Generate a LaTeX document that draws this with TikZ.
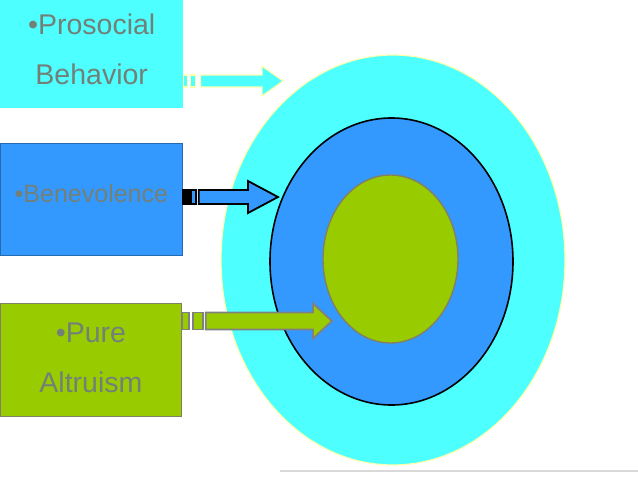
\documentclass[tikz,border=0pt]{standalone}
\usepackage{fontspec}
\setmainfont{Liberation Sans}
\usetikzlibrary{calc,positioning,shapes.geometric}

\definecolor{skycyan}{RGB}{77,255,255}
\definecolor{midblue}{RGB}{51,153,255}
\definecolor{leafgreen}{RGB}{153,204,0}
\definecolor{paleyellow}{RGB}{255,255,176}
\definecolor{olivegray}{RGB}{128,128,100}
\definecolor{textgray}{RGB}{115,128,120}

\tikzset{
  ring/.style={ellipse, inner sep=0pt},
  labelbox/.style={rectangle, anchor=north west, inner sep=0pt, align=center,
    text=textgray, font=\fontsize{28.5}{50}\selectfont},
  blockarrow/.style={line width=1.8pt, line join=miter},
}

\begin{document}
\begin{tikzpicture}[x=1pt,y=-1pt]
    \useasboundingbox (0,0) rectangle (638,479);
    % target rings
    \node[ring, fill=skycyan, draw=paleyellow, line width=1.2pt,
          minimum width=344pt, minimum height=410pt] (outer) at (393,260) {};
    \node[ring, fill=midblue, draw=black, line width=1.6pt,
          minimum width=243pt, minimum height=287pt] (middle) at (391.5,261.5) {};
    \node[ring, fill=leafgreen, draw=olivegray, line width=1.4pt,
          minimum width=135pt, minimum height=168pt] (inner) at (390.5,259) {};
    % label boxes
    \node[labelbox, fill=skycyan, minimum width=183pt, minimum height=108pt,
          text depth=10pt] (prosocial) at (0,0) {•Prosocial\\Behavior};
    \node[labelbox, fill=midblue, draw=midblue!70!black, line width=0.8pt,
          minimum width=182pt, minimum height=112pt, text depth=12pt,
          font=\fontsize{25}{30}\selectfont] (benevolence) at (0,143) {•Benevolence};
    \node[labelbox, fill=leafgreen, draw=olivegray, line width=0.8pt,
          minimum width=181pt, minimum height=113pt,
          text depth=4pt] (altruism) at (0,303) {•Pure\\Altruism};
    % arrow ends
    \coordinate (proS) at (prosocial.east |- 0,81);
    \coordinate (proT) at (283,81);
    \coordinate (benS) at (benevolence.east |- 0,197);
    \coordinate (benT) at (278,197);
    \coordinate (altS) at (altruism.east |- 0,321);
    \coordinate (altT) at (332,321);
    % prosocial arrow
    \draw[blockarrow, draw=paleyellow, fill=skycyan, line width=1.2pt]
        ($(proS)+(0,-6)$) rectangle ($(proS)+(4,6)$);
    \draw[blockarrow, draw=paleyellow, fill=skycyan, line width=1.2pt]
        ($(proS)+(7,-6)$) rectangle ($(proS)+(12,6)$);
    \draw[blockarrow, draw=paleyellow, fill=skycyan, line width=1.2pt]
        ($(proS)+(17,-6)$) -- ($(proT)+(-21,-6)$) -- ($(proT)+(-21,-15)$) -- (proT)
        -- ($(proT)+(-21,15)$) -- ($(proT)+(-21,6)$) -- ($(proS)+(17,6)$) -- cycle;
    % benevolence arrow
    \draw[blockarrow, draw=black, fill=black]
        ($(benS)+(0,-7)$) rectangle ($(benS)+(6,7)$);
    \draw[blockarrow, draw=black, fill=midblue]
        ($(benS)+(8,-7)$) rectangle ($(benS)+(13,7)$);
    \draw[blockarrow, draw=black, fill=midblue]
        ($(benS)+(16,-7)$) -- ($(benT)+(-30,-7)$) -- ($(benT)+(-30,-16)$) -- (benT)
        -- ($(benT)+(-30,16)$) -- ($(benT)+(-30,7)$) -- ($(benS)+(16,7)$) -- cycle;
    % altruism arrow
    \draw[blockarrow, draw=gray, fill=leafgreen]
        ($(altS)+(0,-8.5)$) rectangle ($(altS)+(7,8.5)$);
    \draw[blockarrow, draw=gray, fill=leafgreen]
        ($(altS)+(11,-8.5)$) rectangle ($(altS)+(21,8.5)$);
    \draw[blockarrow, draw=gray, fill=leafgreen]
        ($(altS)+(24,-8.5)$) -- ($(altT)+(-19,-8.5)$) -- ($(altT)+(-19,-17.5)$) -- (altT)
        -- ($(altT)+(-19,17.5)$) -- ($(altT)+(-19,8.5)$) -- ($(altS)+(24,8.5)$) -- cycle;
    % faint line at the bottom
    \draw[gray!30, line width=1.5pt] (280,471) -- (638,471);
\end{tikzpicture}
\end{document}
